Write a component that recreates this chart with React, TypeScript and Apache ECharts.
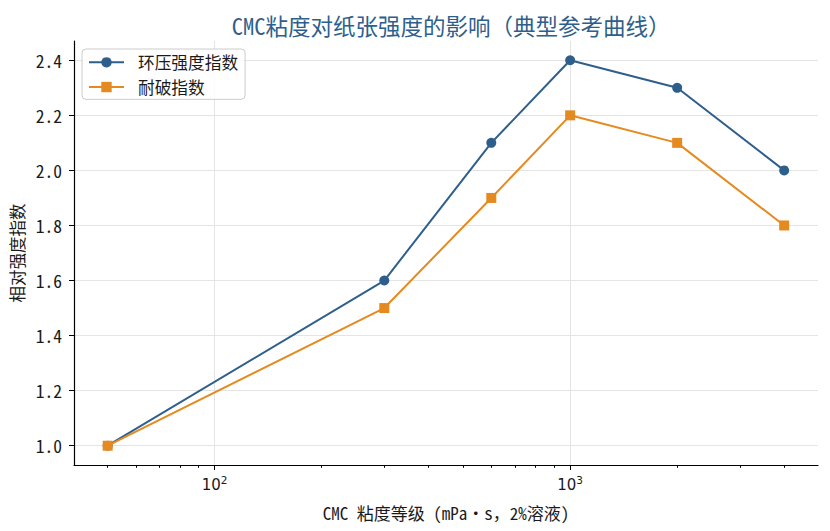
import React, { useEffect, useRef } from "react";
import * as echarts from "echarts";

const viscosity = [50, 300, 600, 1000, 2000, 4000];
const ringCrush = [1.0, 1.6, 2.1, 2.4, 2.3, 2.0];
const burst = [1.0, 1.5, 1.9, 2.2, 2.1, 1.8];
const xMajorTicks = [100, 1000];
const xMinorTicks = [50, 60, 70, 80, 90, 200, 300, 400, 500, 600, 700, 800, 900, 2000, 3000, 4000];
const yTicks = [1.0, 1.2, 1.4, 1.6, 1.8, 2.0, 2.2, 2.4];

const FONT = "'Noto Sans Mono CJK SC', 'DejaVu Sans Mono', 'Noto Sans CJK SC', monospace";
const MATH_FONT = "'DejaVu Sans', sans-serif";
const BLUE = "#2e5f8c";
const ORANGE = "#e58a1f";
const TXT = "#1a1a1a";

export default function App() {
  const chartRef = useRef<HTMLDivElement>(null);

  useEffect(() => {
    if (!chartRef.current) return;
    const chart = echarts.init(chartRef.current, undefined, { renderer: "svg" });

    const xBase = {
      type: "log" as const,
      logBase: 10,
      min: 40.2,
      max: 4980,
      gridIndex: 0,
    };

    const option: echarts.EChartsOption = {
      animation: false,
      backgroundColor: "#ffffff",
      textStyle: { fontFamily: FONT },
      title: {
        text: "CMC粘度对纸张强度的影响（典型参考曲线）",
        left: 446,
        top: 9,
        textAlign: "center",
        textStyle: { color: BLUE, fontSize: 22.5, fontWeight: "normal", fontFamily: FONT },
      },
      legend: {
        left: 82,
        top: 49,
        orient: "vertical",
        itemGap: 8,
        itemWidth: 35,
        itemHeight: 13,
        padding: [5, 7, 4, 6],
        borderColor: "#cccccc",
        borderWidth: 1,
        borderRadius: 4,
        backgroundColor: "rgba(255,255,255,0.85)",
        textStyle: { fontSize: 16.7, color: TXT, fontFamily: FONT, padding: [0, 0, 0, 9] },
        data: ["环压强度指数", "耐破指数"],
      },
      grid: { left: 74, right: 12, top: 41, bottom: 66 },
      xAxis: [
        {
          ...xBase,
          name: "CMC 粘度等级 (mPa・s，2%溶液)",
          nameLocation: "middle",
          nameGap: 39,
          nameTextStyle: { fontSize: 17, color: TXT, fontFamily: FONT },
          axisLine: { show: true, lineStyle: { color: "#000", width: 1.2 } },
          axisTick: { show: true, customValues: xMajorTicks, length: 5, lineStyle: { color: "#000" } },
          axisLabel: {
            customValues: xMajorTicks,
            margin: 9,
            formatter: (v: number) => `{b|10}{s|${Math.round(Math.log10(v))}}`,
            rich: {
              b: { fontSize: 15, color: TXT, fontFamily: MATH_FONT, verticalAlign: "bottom", lineHeight: 18 },
              s: { fontSize: 10.5, color: TXT, fontFamily: MATH_FONT, verticalAlign: "top", lineHeight: 10, padding: [0, 0, 8, 0] },
            },
          },
          splitLine: { show: true, lineStyle: { color: "#e4e4e4", width: 1 } },
          minorTick: { show: false },
        },
        {
          ...xBase,
          position: "bottom",
          axisLine: { show: false },
          axisTick: { show: true, customValues: xMinorTicks, length: 2.8, lineStyle: { color: "#000" } },
          axisLabel: { show: false },
          splitLine: { show: false },
        },
      ],
      yAxis: {
        type: "value",
        min: 0.93,
        max: 2.47,
        name: "相对强度指数",
        nameLocation: "middle",
        nameGap: 45,
        nameRotate: 90,
        nameTextStyle: { fontSize: 16.5, color: TXT, fontFamily: FONT },
        axisLine: { show: true, lineStyle: { color: "#000", width: 1.2 } },
        axisTick: { show: true, customValues: yTicks, length: 5, lineStyle: { color: "#000" } },
        axisLabel: {
          customValues: yTicks,
          fontSize: 17.5,
          color: TXT,
          margin: 12,
          fontFamily: FONT,
          formatter: (v: number) => v.toFixed(1),
        },
        splitLine: { show: true, lineStyle: { color: "#e4e4e4", width: 1 } },
      },
      series: [
        {
          name: "环压强度指数",
          type: "line",
          xAxisIndex: 0,
          data: viscosity.map((x, i) => [x, ringCrush[i]]),
          symbol: "circle",
          symbolSize: 10,
          lineStyle: { color: BLUE, width: 2 },
          itemStyle: { color: BLUE },
        },
        {
          name: "耐破指数",
          type: "line",
          xAxisIndex: 0,
          data: viscosity.map((x, i) => [x, burst[i]]),
          symbol: "rect",
          symbolSize: 10,
          lineStyle: { color: ORANGE, width: 2 },
          itemStyle: { color: ORANGE },
        },
      ],
    };

    chart.setOption(option);
    return () => chart.dispose();
  }, []);

  return <div ref={chartRef} style={{ width: 830, height: 531, margin: -8 }} />;
}
